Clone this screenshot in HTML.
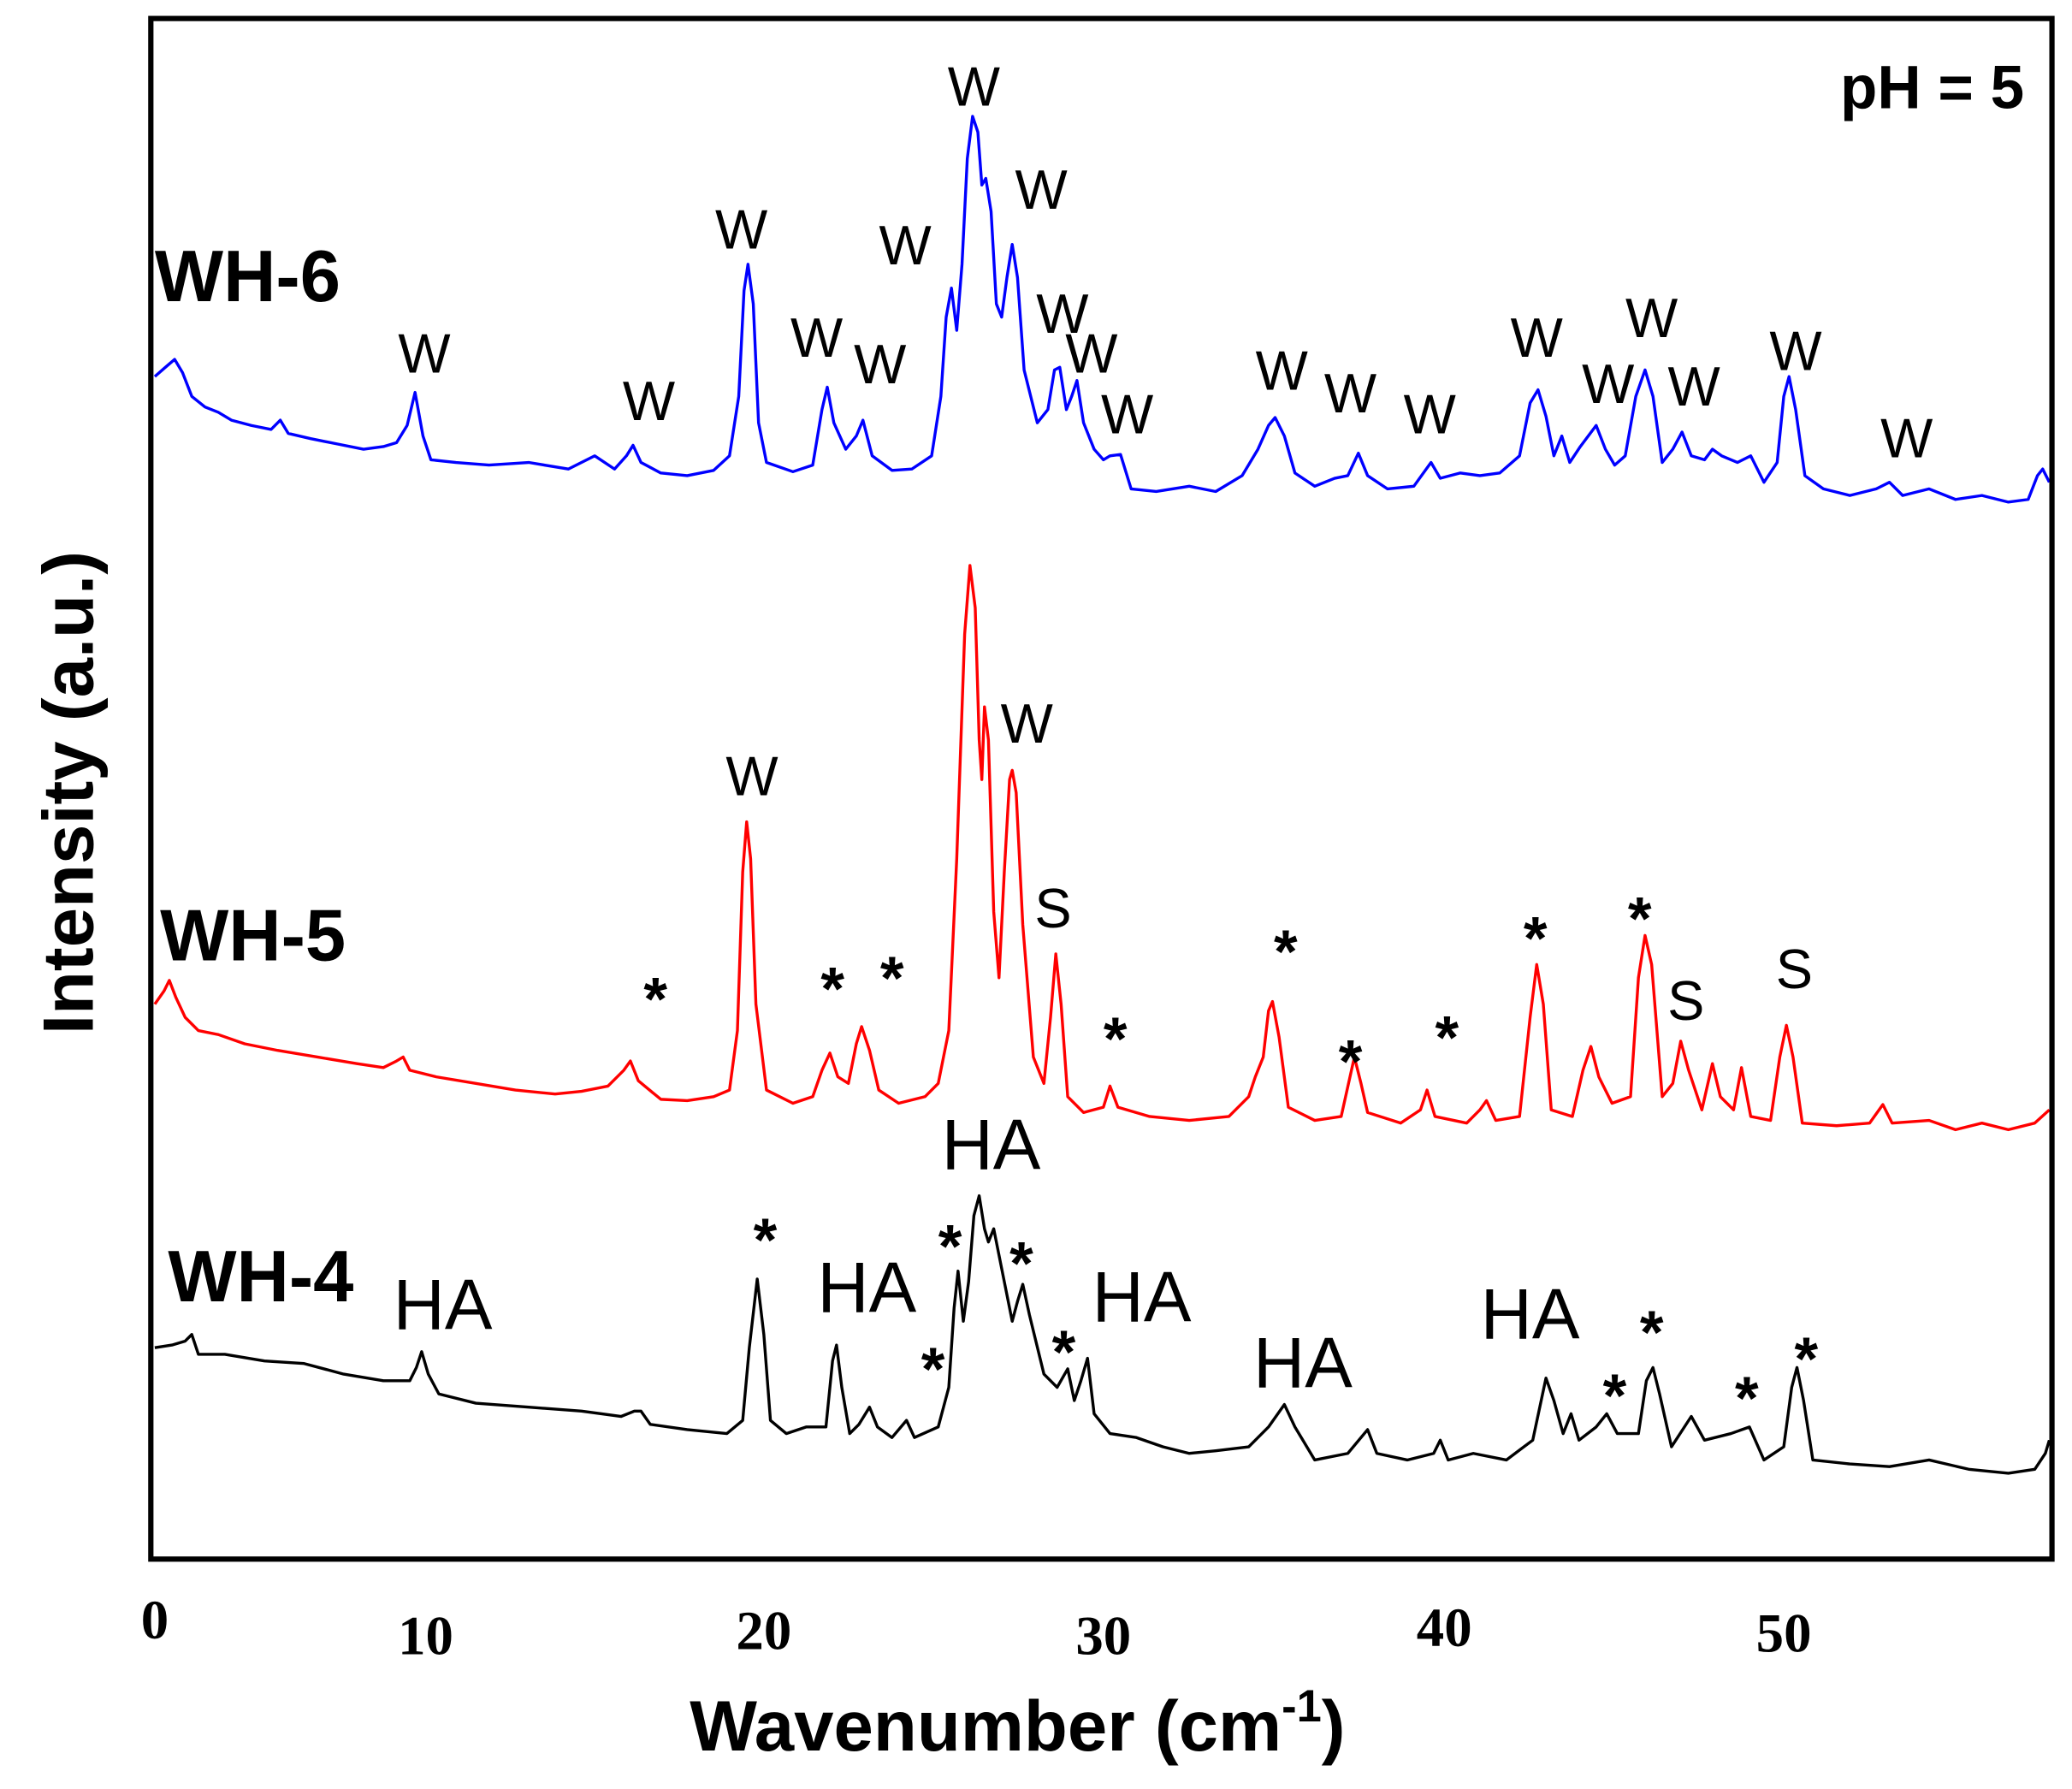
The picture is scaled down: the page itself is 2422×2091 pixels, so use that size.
<!DOCTYPE html>
<html><head><meta charset="utf-8">
<style>
html,body{margin:0;padding:0;background:#fff;}
svg{display:block;}
.l{font-family:"Liberation Sans",sans-serif;font-size:42px;fill:#000;}
.h{font-family:"Liberation Sans",sans-serif;font-size:54px;fill:#000;}
.a{font-family:"Liberation Sans",sans-serif;font-size:46px;font-weight:bold;fill:#000;}
.b{font-family:"Liberation Sans",sans-serif;font-weight:bold;fill:#000;}
.t{font-family:"Liberation Serif",serif;font-weight:bold;font-size:42px;fill:#000;}
</style></head>
<body>
<svg width="2422" height="2091" viewBox="0 0 1568 1354" xmlns="http://www.w3.org/2000/svg">
<rect x="0" y="0" width="1568" height="1354" fill="#fff"/>
<g fill="none" stroke-width="2.2" stroke-linejoin="round">
<path stroke="#0000ff" d="M117 285 L125 278 L132 272 L138 282 L145 300 L155 308 L165 312 L175 318 L190 322 L205 325 L212 318 L218 328 L235 332 L255 336 L275 340 L290 338 L300 335 L308 322 L314 297 L320 330 L326 348 L345 350 L370 352 L400 350 L430 355 L450 345 L465 355 L474 345 L479 337 L485 350 L500 358 L520 360 L540 356 L552 345 L559 300 L563 220 L566 200 L570 230 L574 320 L580 350 L600 357 L615 352 L622 310 L626 293 L631 320 L640 340 L648 330 L653 318 L660 345 L675 356 L690 355 L705 345 L712 300 L716 240 L720 218 L724 250 L728 200 L732 120 L736 88 L740 100 L743 140 L746 135 L750 160 L754 230 L758 240 L762 210 L766 185 L770 210 L775 280 L785 320 L793 310 L798 280 L802 278 L807 310 L811 300 L815 288 L820 320 L828 340 L835 348 L840 345 L848 344 L856 370 L875 372 L900 368 L920 372 L940 360 L952 340 L960 322 L965 316 L972 330 L980 358 L995 368 L1010 362 L1020 360 L1028 343 L1035 360 L1050 370 L1070 368 L1083 350 L1090 362 L1105 358 L1120 360 L1135 358 L1150 345 L1158 305 L1164 295 L1170 315 L1176 345 L1182 330 L1188 350 L1196 338 L1208 322 L1215 340 L1222 352 L1230 345 L1238 300 L1245 280 L1251 300 L1258 350 L1266 340 L1273 327 L1280 345 L1290 348 L1296 340 L1303 345 L1315 350 L1325 345 L1335 365 L1345 350 L1350 300 L1354 285 L1359 310 L1366 360 L1380 370 L1400 375 L1420 370 L1430 365 L1440 375 L1460 370 L1480 378 L1500 375 L1520 380 L1535 378 L1542 360 L1546 355 L1551 365"/>
<path stroke="#ff0000" d="M117 760 L124 750 L128 742 L133 755 L140 770 L150 780 L165 783 L185 790 L210 795 L240 800 L270 805 L290 808 L300 803 L305 800 L310 810 L330 815 L360 820 L390 825 L420 828 L440 826 L460 822 L472 810 L477 803 L483 818 L500 832 L520 833 L540 830 L552 825 L558 780 L562 660 L565 622 L568 650 L572 760 L580 825 L600 835 L615 830 L622 810 L628 797 L634 815 L642 820 L648 790 L652 777 L658 795 L665 825 L680 835 L700 830 L710 820 L718 780 L724 650 L730 480 L734 428 L738 460 L741 560 L743 590 L745 535 L748 560 L752 690 L756 740 L760 660 L764 590 L766 583 L769 600 L774 700 L782 800 L790 820 L795 770 L799 722 L803 760 L808 830 L820 842 L835 838 L840 822 L846 838 L870 845 L900 848 L930 845 L945 830 L950 815 L956 800 L960 765 L963 758 L968 785 L975 838 L995 848 L1015 845 L1025 800 L1030 820 L1035 842 L1060 850 L1075 840 L1080 825 L1086 845 L1110 850 L1120 840 L1125 833 L1132 848 L1150 845 L1158 770 L1163 730 L1168 760 L1174 840 L1190 845 L1198 810 L1204 792 L1210 815 L1220 835 L1234 830 L1240 740 L1245 708 L1250 730 L1258 830 L1266 820 L1272 788 L1278 810 L1288 840 L1296 805 L1302 830 L1312 840 L1318 808 L1325 845 L1340 848 L1347 800 L1352 776 L1357 800 L1364 850 L1390 852 L1415 850 L1425 836 L1432 850 L1460 848 L1480 855 L1500 850 L1520 855 L1540 850 L1551 840"/>
<path stroke="#000" d="M117 1020 L130 1018 L140 1015 L145 1010 L150 1025 L170 1025 L200 1030 L230 1032 L260 1040 L290 1045 L310 1045 L315 1035 L319 1023 L324 1040 L332 1055 L360 1062 L400 1065 L440 1068 L470 1072 L480 1068 L485 1068 L492 1078 L520 1082 L550 1085 L562 1075 L567 1020 L573 968 L578 1010 L583 1075 L595 1085 L610 1080 L625 1080 L630 1030 L633 1018 L637 1050 L643 1085 L650 1078 L658 1065 L664 1080 L675 1088 L686 1075 L692 1088 L710 1080 L718 1050 L722 990 L725 962 L729 1000 L733 970 L737 920 L741 905 L745 930 L748 940 L752 930 L758 960 L766 1000 L770 985 L774 972 L779 995 L790 1040 L800 1050 L808 1036 L813 1060 L818 1045 L823 1028 L828 1070 L840 1085 L860 1088 L880 1095 L900 1100 L920 1098 L945 1095 L960 1080 L972 1063 L980 1080 L995 1105 L1020 1100 L1035 1082 L1042 1100 L1065 1105 L1085 1100 L1090 1090 L1096 1105 L1115 1100 L1140 1105 L1160 1090 L1170 1043 L1176 1060 L1183 1085 L1189 1070 L1195 1090 L1208 1080 L1216 1070 L1224 1085 L1240 1085 L1246 1045 L1251 1035 L1256 1055 L1265 1095 L1280 1072 L1290 1090 L1310 1085 L1324 1080 L1335 1105 L1350 1095 L1356 1050 L1360 1035 L1365 1060 L1372 1105 L1400 1108 L1430 1110 L1460 1105 L1490 1112 L1520 1115 L1540 1112 L1548 1100 L1551 1090"/>
</g>
<rect x="114" y="14" width="1439" height="1166" fill="none" stroke="#000" stroke-width="4"/>
<g class="t" text-anchor="middle">
<text x="117" y="1240">0</text><text x="322" y="1252">10</text><text x="578" y="1248">20</text>
<text x="835" y="1252">30</text><text x="1093" y="1246">40</text><text x="1350" y="1250">50</text>
</g>
<text class="b" x="770" y="1325" font-size="54" text-anchor="middle">Wavenumber (cm<tspan font-size="34" dy="-22">-1</tspan><tspan dy="22">)</tspan></text>
<text class="b" font-size="54" text-anchor="middle" transform="translate(70,600) rotate(-90)">Intensity (a.u.)</text>
<text class="b" x="1532" y="82" font-size="46" text-anchor="end">pH = 5</text>
<text class="b" x="117" y="228" font-size="55">WH-6</text>
<text class="b" x="121" y="727" font-size="55">WH-5</text>
<text class="b" x="127" y="985" font-size="55">WH-4</text>
<g class="l" text-anchor="middle">
<text x="321" y="282">W</text><text x="491" y="318">W</text><text x="561" y="188">W</text><text x="618" y="270">W</text>
<text x="666" y="290">W</text><text x="685" y="200">W</text><text x="737" y="80">W</text><text x="788" y="158">W</text>
<text x="804" y="252">W</text><text x="826" y="282">W</text><text x="853" y="328">W</text><text x="970" y="295">W</text>
<text x="1022" y="312">W</text><text x="1082" y="328">W</text><text x="1163" y="270">W</text><text x="1217" y="305">W</text>
<text x="1250" y="255">W</text><text x="1282" y="307">W</text><text x="1359" y="280">W</text><text x="1443" y="346">W</text>
<text x="569" y="602">W</text><text x="777" y="562">W</text>
<text x="797" y="702">S</text><text x="1276" y="772">S</text><text x="1358" y="748">S</text>
</g>
<g class="h" text-anchor="middle">
<text x="335" y="1006">HA</text><text x="656" y="993">HA</text><text x="750" y="885">HA</text><text x="864" y="1000">HA</text>
<text x="986" y="1050">HA</text><text x="1158" y="1013">HA</text>
</g>
<g class="a" text-anchor="middle">
<text x="496" y="772">*</text><text x="630" y="764">*</text><text x="675" y="756">*</text><text x="844" y="802">*</text>
<text x="973" y="736">*</text><text x="1022" y="819">*</text><text x="1095" y="801">*</text><text x="1162" y="726">*</text>
<text x="1241" y="711">*</text>
<text x="579" y="954">*</text><text x="719" y="959">*</text><text x="706" y="1052">*</text><text x="773" y="972">*</text>
<text x="805" y="1039">*</text><text x="1222" y="1072">*</text><text x="1250" y="1024">*</text><text x="1322" y="1074">*</text>
<text x="1367" y="1044">*</text>
</g>
</svg>
</body></html>
